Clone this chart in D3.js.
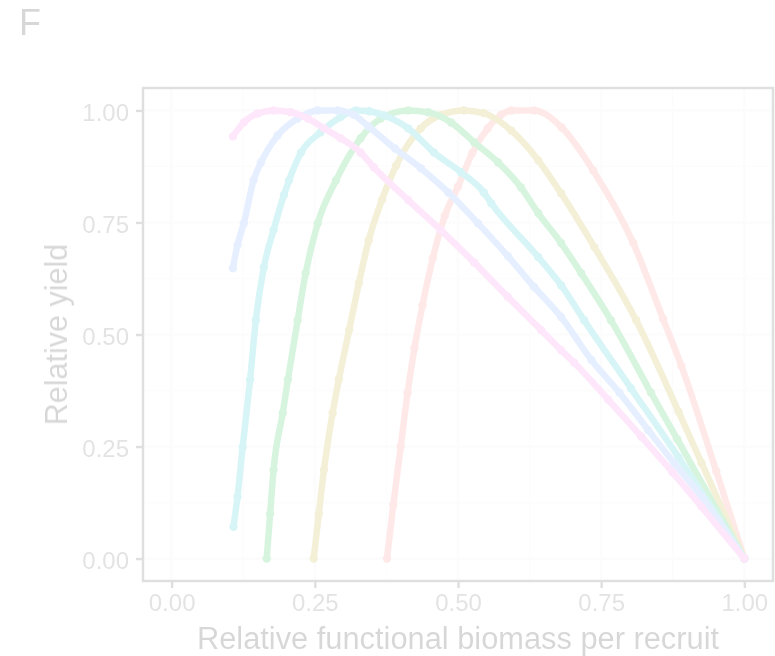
<!DOCTYPE html>
<html>
<head>
<meta charset="utf-8">
<script src="https://cdn.jsdelivr.net/npm/d3@7"></script>
<style>
  html, body { margin: 0; padding: 0; background: #fff; }
  svg { display: block; font-family: "Liberation Sans", Arial, sans-serif; }
</style>
</head>
<body>
<div id="chart"></div>
<script>
// Series: [relative biomass per recruit, relative yield]
const seriesNames = ['s1', 's2', 's3', 's4', 's5', 's6'];
const seriesColors = ['#F8766D', '#B79F00', '#00BA38', '#00BFC4', '#619CFF', '#F564E3'];

const curveRed = [[0.376,0],[0.387,0.12],[0.400,0.25],[0.412,0.37],[0.424,0.47],[0.438,0.565],
  [0.456,0.67],[0.477,0.765],[0.500,0.83],[0.525,0.905],[0.552,0.96],[0.575,0.99],[0.593,1.0],
  [0.633,1.0],[0.681,0.962],[0.736,0.866],[0.806,0.704],[0.858,0.535],[0.89,0.43],[0.951,0.195],[1.0,0]];
const curveOlive = [[0.248,0],[0.257,0.1],[0.266,0.198],[0.281,0.325],[0.292,0.40],[0.310,0.51],
  [0.327,0.615],[0.344,0.71],[0.367,0.80],[0.392,0.877],[0.435,0.96],[0.470,0.99],[0.51,1.0],
  [0.545,0.994],[0.593,0.955],[0.64,0.889],[0.68,0.815],[0.738,0.695],[0.811,0.532],[0.885,0.328],
  [0.925,0.214],[1.0,0]];
const curveGreen = [[0.166,0],[0.172,0.1],[0.178,0.198],[0.194,0.325],[0.203,0.399],[0.220,0.532],
  [0.234,0.637],[0.255,0.748],[0.287,0.844],[0.330,0.938],[0.365,0.982],[0.413,1.0],[0.448,0.996],
  [0.488,0.973],[0.528,0.929],[0.570,0.884],[0.610,0.828],[0.640,0.771],[0.680,0.704],[0.715,0.637],
  [0.767,0.532],[0.837,0.37],[0.883,0.266],[1.0,0]];
const curveCyan = [[0.108,0.071],[0.115,0.138],[0.124,0.249],[0.137,0.399],[0.147,0.532],[0.161,0.650],
  [0.178,0.733],[0.196,0.811],[0.205,0.844],[0.226,0.906],[0.260,0.951],[0.295,0.985],[0.322,1.0],
  [0.345,0.998],[0.371,0.989],[0.413,0.96],[0.458,0.906],[0.505,0.862],[0.545,0.817],[0.558,0.793],
  [0.64,0.673],[0.68,0.61],[0.720,0.532],[0.802,0.38],[0.885,0.226],[1.0,0]];
const curveBlue = [[0.107,0.648],[0.115,0.70],[0.126,0.748],[0.143,0.844],[0.156,0.884],[0.185,0.944],
  [0.220,0.982],[0.255,1.0],[0.290,1.0],[0.318,0.99],[0.343,0.965],[0.390,0.915],[0.435,0.871],
  [0.483,0.817],[0.535,0.748],[0.587,0.675],[0.633,0.606],[0.680,0.539],[0.733,0.443],[0.782,0.37],
  [0.832,0.287],[0.878,0.212],[0.925,0.138],[1.0,0]];
const curvePink = [[0.107,0.942],[0.126,0.973],[0.150,0.993],[0.178,1.0],[0.208,0.996],[0.238,0.982],
  [0.266,0.960],[0.295,0.938],[0.330,0.906],[0.353,0.873],[0.413,0.80],[0.470,0.733],[0.528,0.661],
  [0.587,0.584],[0.645,0.51],[0.68,0.465],[0.703,0.437],[0.762,0.355],[0.820,0.272],[0.875,0.192],
  [0.925,0.116],[1.0,0]];
const allCurves = [curveRed, curveOlive, curveGreen, curveCyan, curveBlue, curvePink];

const xTicks = [0, 0.25, 0.5, 0.75, 1];
const yTicks = [0, 0.25, 0.5, 0.75, 1];
const minorTicks = [0.125, 0.375, 0.625, 0.875];
const xTitle = 'Relative functional biomass per recruit';
const yTitle = 'Relative yield';
const panelTag = 'F';

const W = 775, H = 656;
const panel = { left: 143, right: 773, top: 88, bottom: 581 };

const x = d3.scaleLinear().domain([-0.05, 1.05]).range([panel.left, panel.right]);
const y = d3.scaleLinear().domain([-0.05, 1.05]).range([panel.bottom, panel.top]);

const svg = d3.select('#chart').append('svg')
  .attr('width', W).attr('height', H);

// whole figure is washed out
const root = svg.append('g').attr('opacity', 0.16);

// grid
const grid = root.append('g');
grid.selectAll('.vminor').data(minorTicks).enter().append('line')
  .attr('x1', d => x(d)).attr('x2', d => x(d))
  .attr('y1', panel.top).attr('y2', panel.bottom)
  .attr('stroke', '#ebebeb').attr('stroke-width', 1.3);
grid.selectAll('.hminor').data(minorTicks).enter().append('line')
  .attr('y1', d => y(d)).attr('y2', d => y(d))
  .attr('x1', panel.left).attr('x2', panel.right)
  .attr('stroke', '#ebebeb').attr('stroke-width', 1.3);
grid.selectAll('.vmajor').data(xTicks).enter().append('line')
  .attr('x1', d => x(d)).attr('x2', d => x(d))
  .attr('y1', panel.top).attr('y2', panel.bottom)
  .attr('stroke', '#ebebeb').attr('stroke-width', 2.6);
grid.selectAll('.hmajor').data(yTicks).enter().append('line')
  .attr('y1', d => y(d)).attr('y2', d => y(d))
  .attr('x1', panel.left).attr('x2', panel.right)
  .attr('stroke', '#ebebeb').attr('stroke-width', 2.6);

// curves, first series drawn first
const line = d3.line()
  .x(d => x(d[0])).y(d => y(d[1]))
  .curve(d3.curveMonotoneX);

allCurves.forEach((pts, i) => {
  const g = root.append('g').attr('class', 'series ' + seriesNames[i]);
  g.append('path')
    .attr('d', line(pts))
    .attr('fill', 'none')
    .attr('stroke', seriesColors[i])
    .attr('stroke-width', 6.5)
    .attr('stroke-linejoin', 'round')
    .attr('stroke-linecap', 'round');
  g.selectAll('circle').data(pts).enter().append('circle')
    .attr('cx', d => x(d[0])).attr('cy', d => y(d[1]))
    .attr('r', 4.2)
    .attr('fill', seriesColors[i]);
});

// panel border
root.append('rect')
  .attr('x', panel.left).attr('y', panel.top)
  .attr('width', panel.right - panel.left).attr('height', panel.bottom - panel.top)
  .attr('fill', 'none').attr('stroke', '#333333').attr('stroke-width', 2.4);

// axes
const xAxis = root.append('g')
  .attr('transform', 'translate(0,' + panel.bottom + ')')
  .call(d3.axisBottom(x).tickValues(xTicks).tickFormat(d3.format('.2f')).tickSize(7).tickPadding(6));
const yAxis = root.append('g')
  .attr('transform', 'translate(' + panel.left + ',0)')
  .call(d3.axisLeft(y).tickValues(yTicks).tickFormat(d3.format('.2f')).tickSize(7).tickPadding(7));

[xAxis, yAxis].forEach(a => {
  a.select('.domain').remove();
  a.selectAll('.tick line').attr('stroke', '#333333').attr('stroke-width', 2.4);
  a.selectAll('.tick text')
    .attr('fill', '#4d4d4d')
    .style('font-size', '24px')
    .style('font-family', '"Liberation Sans", Arial, sans-serif');
});
yAxis.selectAll('.tick text').attr('dy', '0.4em');

// titles
root.append('text')
  .attr('x', (panel.left + panel.right) / 2).attr('y', 649)
  .attr('text-anchor', 'middle')
  .style('font-size', '30.8px').attr('fill', '#000')
  .text(xTitle);

root.append('text')
  .attr('transform', 'translate(67,' + (panel.top + panel.bottom) / 2 + ') rotate(-90)')
  .attr('text-anchor', 'middle')
  .style('font-size', '30.5px').attr('fill', '#000')
  .text(yTitle);

root.append('text')
  .attr('x', 19).attr('y', 35)
  .style('font-size', '36px').attr('fill', '#000')
  .text(panelTag);
</script>
</body>
</html>
